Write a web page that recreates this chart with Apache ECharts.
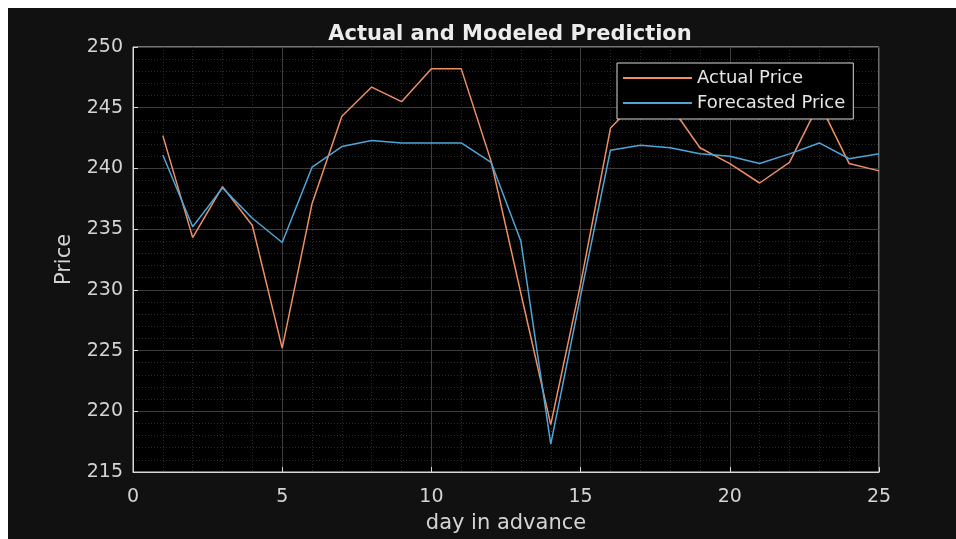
<!DOCTYPE html>
<html>
<head>
<meta charset="utf-8">
<title>Actual and Modeled Prediction</title>
<script src="https://cdn.jsdelivr.net/npm/echarts@6/dist/echarts.min.js"></script>
<style>
  html, body { margin: 0; padding: 0; background: #fff; }
  #chart {
    position: absolute;
    left: 8px;
    top: 8px;
    width: 948px;
    height: 531px;
    background: #111111;
  }
</style>
</head>
<body>
<div id="chart"></div>
<script>
// day index 1..25
const days = [1, 2, 3, 4, 5, 6, 7, 8, 9, 10, 11, 12, 13, 14, 15, 16, 17, 18, 19, 20, 21, 22, 23, 24, 25];

const actualPrice = [242.7, 234.3, 238.5, 235.3, 225.2, 237.1, 244.3, 246.7, 245.5, 248.2, 248.2, 240.6, 229.7,
  218.9, 230.5, 243.3, 245.9, 245.2, 241.7, 240.4, 238.8, 240.5, 245.4, 240.4, 239.8];

const forecastPrice = [241.1, 235.2, 238.4, 235.9, 233.9, 240.1, 241.8, 242.3, 242.1, 242.1, 242.1, 240.5, 234.0,
  217.3, 229.5, 241.5, 241.9, 241.7, 241.2, 241.0, 240.4, 241.2, 242.1, 240.8, 241.2];

const xTicks = [0, 5, 10, 15, 20, 25];
const yTicks = [215, 220, 225, 230, 235, 240, 245, 250];

const font = 'DejaVu Sans';
const labelColor = '#d4d4d4';

const toPairs = vals => days.map((d, i) => [d, vals[i]]);

const myEcharts = echarts.init(document.getElementById('chart'), null, { renderer: 'canvas' });

const option = {
  backgroundColor: '#111111',
  animation: false,
  title: {
    text: 'Actual and Modeled Prediction',
    left: 497,
    top: 11,
    textAlign: 'center',
    textStyle: {
      fontFamily: font,
      fontSize: 21,
      fontWeight: 'bold',
      color: '#ececec',
    },
  },
  legend: {
    orient: 'vertical',
    left: 609,
    top: 55,
    padding: [4, 8, 5, 6],
    itemGap: 3,
    itemWidth: 69,
    itemHeight: 2,
    icon: 'rect',
    backgroundColor: '#000',
    borderColor: '#d8d8d8',
    borderWidth: 1,
    textStyle: {
      fontFamily: font,
      fontSize: 18,
      color: '#e6e6e6',
      lineHeight: 22,
    },
    data: ['Actual Price', 'Forecasted Price'],
  },
  grid: {
    left: 125,
    right: 77,
    top: 39,
    bottom: 59,
    show: true,
    backgroundColor: '#000',
    borderColor: '#d8d8d8',
    borderWidth: 1,
  },
  xAxis: {
    type: 'value',
    min: xTicks[0],
    max: xTicks[xTicks.length - 1],
    interval: 5,
    name: 'day in advance',
    nameLocation: 'middle',
    nameGap: 41,
    nameTextStyle: { fontFamily: font, fontSize: 21, color: labelColor },
    axisLine: { show: true, lineStyle: { color: '#d8d8d8', width: 1 } },
    axisTick: { show: true, inside: true, length: 5, lineStyle: { color: '#d8d8d8' } },
    axisLabel: { fontFamily: font, fontSize: 19, color: labelColor, margin: 16 },
    splitLine: { show: true, lineStyle: { color: '#3d3d3d', width: 1 } },
    minorTick: { show: false, splitNumber: 5 },
    minorSplitLine: { show: true, lineStyle: { color: '#2a2a2a', type: [1, 2] } },
  },
  yAxis: {
    type: 'value',
    min: yTicks[0],
    max: yTicks[yTicks.length - 1],
    interval: 5,
    name: 'Price',
    nameLocation: 'middle',
    nameGap: 58,
    nameRotate: 90,
    nameTextStyle: { fontFamily: font, fontSize: 21, color: labelColor },
    axisLine: { show: true, lineStyle: { color: '#d8d8d8', width: 1 } },
    axisTick: { show: true, inside: true, length: 5, lineStyle: { color: '#d8d8d8' } },
    axisLabel: { fontFamily: font, fontSize: 19, color: labelColor, margin: 10 },
    splitLine: { show: true, lineStyle: { color: '#3d3d3d', width: 1 } },
    minorTick: { show: false, splitNumber: 5 },
    minorSplitLine: { show: true, lineStyle: { color: '#2a2a2a', type: [1, 2] } },
  },
  series: [
    {
      name: 'Actual Price',
      type: 'line',
      data: toPairs(actualPrice),
      showSymbol: false,
      lineStyle: { color: '#ee8f66', width: 1.5 },
      itemStyle: { color: '#ee8f66' },
    },
    {
      name: 'Forecasted Price',
      type: 'line',
      data: toPairs(forecastPrice),
      showSymbol: false,
      lineStyle: { color: '#4ea6d8', width: 1.5 },
      itemStyle: { color: '#4ea6d8' },
    },
  ],
};

myEcharts.setOption(option);
</script>
</body>
</html>
